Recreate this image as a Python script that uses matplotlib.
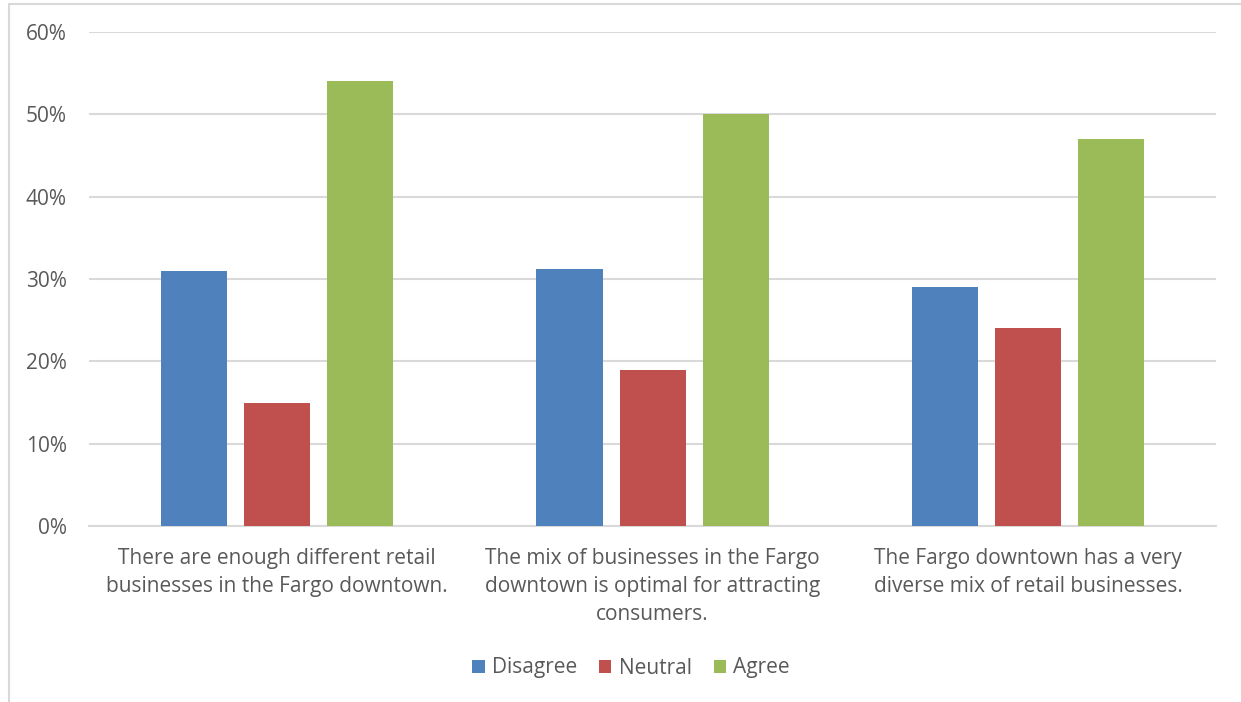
import numpy as np
import matplotlib.pyplot as plt
from matplotlib.patches import Rectangle
from matplotlib.ticker import PercentFormatter

categories = [
    "There are enough different retail\nbusinesses in the Fargo downtown.",
    "The mix of businesses in the Fargo\ndowntown is optimal for attracting\nconsumers.",
    "The Fargo downtown has a very\ndiverse mix of retail businesses.",
]
series = ["Disagree", "Neutral", "Agree"]
disagree = [0.31, 0.312, 0.29]
neutral = [0.15, 0.19, 0.24]
agree = [0.54, 0.50, 0.47]
colors = ["#4f81bd", "#c0504d", "#9bbb59"]

plt.rcParams['font.family'] = ['Open Sans', 'DejaVu Sans']

fig = plt.figure(figsize=(12.41, 7.02), dpi=100)
ax = fig.add_axes([0.0717, 0.2507, 0.9083, 0.7037])

# light frame around the chart area
fig.patches.append(Rectangle((9 / 1241, -0.01), 1.02, 1 - 4 / 702 + 0.01,
                             transform=fig.transFigure, fill=False,
                             edgecolor="#d9d9d9", linewidth=1.5))

x = np.arange(len(categories)) + 0.5
w = 0.176
step = 0.221
for i, (name, vals) in enumerate(zip(series, [disagree, neutral, agree])):
    ax.bar(x + (i - 1) * step, vals, w, color=colors[i], label=name, zorder=3)

ax.set_xlim(0, 3)
ax.set_ylim(0, 0.6)
ax.set_yticks(np.arange(0, 0.61, 0.1))
ax.yaxis.set_major_formatter(PercentFormatter(1.0, decimals=0))
ax.grid(axis='y', color="#d9d9d9", linewidth=1.5, zorder=0)
for s in ["top", "right", "left"]:
    ax.spines[s].set_visible(False)
ax.spines["bottom"].set_color("#d9d9d9")
ax.spines["bottom"].set_linewidth(1.5)
ax.tick_params(axis='both', length=0, colors="#595959", labelsize=15)
ax.tick_params(axis='y', pad=16)
ax.tick_params(axis='x', pad=16)
ax.set_xticks(x)
ax.set_xticklabels(categories, linespacing=1.42)

ax.legend(loc="center", ncol=3, frameon=False,
          fontsize=15, handlelength=0.6, handleheight=0.6, handletextpad=0.35,
          columnspacing=1.05, labelcolor="#595959")
leg = ax.get_legend()
leg.set_bbox_to_anchor((631 / 1241, (702 - 668) / 702), transform=fig.transFigure)

fig.savefig("out.png", dpi=100)
